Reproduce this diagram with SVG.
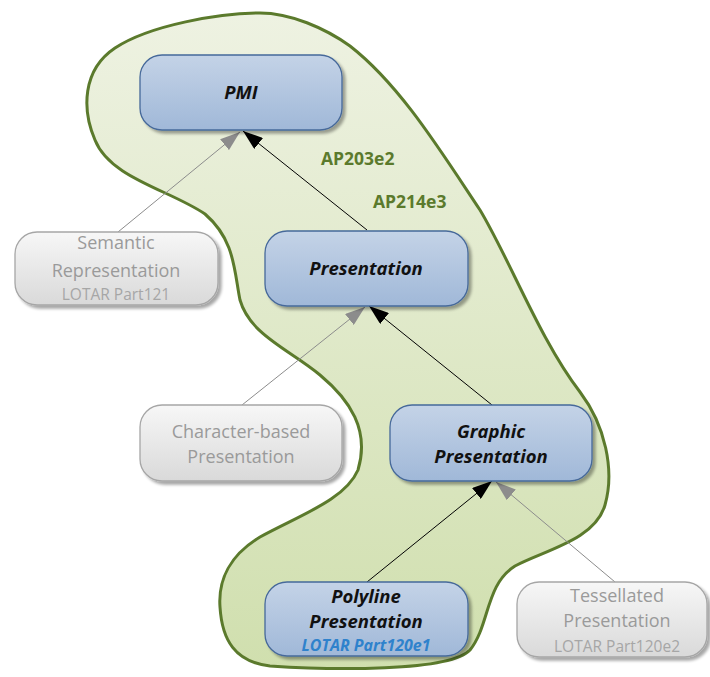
<svg xmlns="http://www.w3.org/2000/svg" width="710" height="677" viewBox="0 0 710 677">
<defs>
<linearGradient id="blobG" x1="0" y1="0" x2="0" y2="1">
<stop offset="0" stop-color="#eef2e2"/>
<stop offset="1" stop-color="#d0dfae"/>
</linearGradient>
<linearGradient id="blueG" x1="0" y1="0" x2="0" y2="1">
<stop offset="0" stop-color="#c4d3e7"/>
<stop offset="1" stop-color="#a0b8d8"/>
</linearGradient>
<linearGradient id="grayG" x1="0" y1="0" x2="0" y2="1">
<stop offset="0" stop-color="#f7f7f7"/>
<stop offset="1" stop-color="#d9d9d9"/>
</linearGradient>
<filter id="sh" x="-10%" y="-10%" width="125%" height="130%">
<feGaussianBlur in="SourceAlpha" stdDeviation="1.5"/>
<feOffset dx="3" dy="3" result="b"/>
<feComponentTransfer><feFuncA type="linear" slope="0.35"/></feComponentTransfer>
<feMerge><feMergeNode/><feMergeNode in="SourceGraphic"/></feMerge>
</filter>
<marker id="ab" viewBox="0 0 20 14" refX="20" refY="7" markerWidth="20" markerHeight="14" markerUnits="userSpaceOnUse" orient="auto">
<path d="M0,0 L20,7 L0,14 Z" fill="#000"/>
</marker>
<marker id="ag" viewBox="0 0 20 14" refX="20" refY="7" markerWidth="20" markerHeight="14" markerUnits="userSpaceOnUse" orient="auto">
<path d="M0,0 L20,7 L0,14 Z" fill="#8c8c8c"/>
</marker>
</defs>
<style>
.bn{fill:url(#blueG);stroke:#46699a;stroke-width:1.3;filter:url(#sh)}
.gn{fill:url(#grayG);stroke:#a6a6a6;stroke-width:1.3;filter:url(#sh)}
.bt{font-family:"Open Sans","Liberation Sans",sans-serif;font-style:italic;font-weight:bold;font-size:18.5px;fill:#111;text-anchor:middle}
.gt{font-family:"Open Sans","Liberation Sans",sans-serif;font-size:18px;fill:#9a9a9a;text-anchor:middle}
.gs{font-family:"Open Sans","Liberation Sans",sans-serif;font-size:15.5px;fill:#a6a6a6;text-anchor:middle}
.lb{font-family:"Open Sans","Liberation Sans",sans-serif;font-style:italic;font-weight:bold;font-size:16px;fill:#2f82cc;text-anchor:middle}
.ap{font-family:"Open Sans","Liberation Sans",sans-serif;font-weight:bold;font-size:17.5px;fill:#5b7a2c}
.cb{stroke:#000;stroke-width:1;fill:none;marker-end:url(#ab)}
.cg{stroke:#8c8c8c;stroke-width:1;fill:none;marker-end:url(#ag)}
</style>
<path id="blob" d="M260,13 C290,13 325,28 350,46 C400,85 440,150 480,210 C510,260 540,340 580,392 C605,425 615,470 605,505 C595,540 545,550 515,566 C485,585 490,625 470,650 C450,672 330,670 270,666 C235,662 222,640 220,607 C218,580 230,555 260,537 C300,515 345,500 358,470 C370,430 350,400 320,375 C290,350 250,335 240,300 C234,270 235,240 205,214 C170,190 110,178 95,140 C82,110 82,70 115,48 C150,25 220,13 260,13 Z" fill="url(#blobG)" stroke="#5b7a2c" stroke-width="3"/>
<text class="ap" x="321" y="165">AP203e2</text>
<text class="ap" x="373" y="208">AP214e3</text>
<g id="connectors">
<line class="cb" x1="367" y1="230" x2="243" y2="131"/>
<line class="cg" x1="118" y1="232" x2="240" y2="132"/>
<line class="cb" x1="492" y1="405" x2="369" y2="306"/>
<line class="cg" x1="242" y1="405" x2="365" y2="307"/>
<line class="cb" x1="367" y1="582" x2="492" y2="481"/>
<line class="cg" x1="615" y1="582" x2="496" y2="482"/>
</g>
<g id="pmi">
<rect class="bn" x="140" y="55" width="202" height="75" rx="22"/>
<text class="bt" x="241" y="99">PMI</text>
</g>
<g id="presentation">
<rect class="bn" x="265" y="231" width="203" height="75" rx="22"/>
<text class="bt" x="366" y="275">Presentation</text>
</g>
<g id="graphic">
<rect class="bn" x="390" y="405" width="202" height="76" rx="22"/>
<text class="bt" x="491" y="438">Graphic</text>
<text class="bt" x="491" y="463">Presentation</text>
</g>
<g id="polyline">
<rect class="bn" x="265" y="582" width="203" height="74" rx="22"/>
<text class="bt" x="366" y="603">Polyline</text>
<text class="bt" x="366" y="628">Presentation</text>
<text class="lb" x="366" y="651">LOTAR Part120e1</text>
</g>
<g id="semantic">
<rect class="gn" x="15" y="232" width="203" height="73" rx="22"/>
<text class="gt" x="116" y="249">Semantic</text>
<text class="gt" x="116" y="277">Representation</text>
<text class="gs" x="116" y="300">LOTAR Part121</text>
</g>
<g id="character">
<rect class="gn" x="140" y="405" width="202" height="76" rx="22"/>
<text class="gt" x="241" y="438">Character-based</text>
<text class="gt" x="241" y="463">Presentation</text>
</g>
<g id="tessellated">
<rect class="gn" x="517" y="582" width="190" height="75" rx="22"/>
<text class="gt" x="617" y="602">Tessellated</text>
<text class="gt" x="617" y="627">Presentation</text>
<text class="gs" x="617" y="652">LOTAR Part120e2</text>
</g>
</svg>
